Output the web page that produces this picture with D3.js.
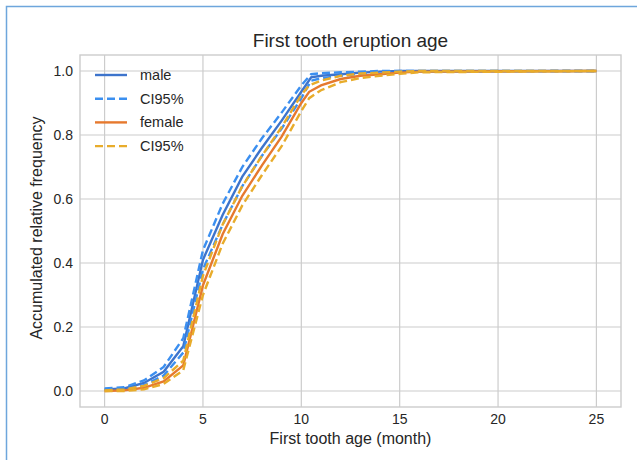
<!DOCTYPE html>
<html>
<head>
<meta charset="utf-8">
<script src="https://cdn.jsdelivr.net/npm/d3@7"></script>
<style>
  body { margin: 0; background: #fff; }
  text { font-family: "Liberation Sans", Arial, sans-serif; fill: #262626; }
</style>
</head>
<body>
<script>
// male cumulative curve + CI95
var maleAges = [0, 1, 2, 3, 4, 5, 6, 7, 8, 9, 10, 10.5, 11, 12, 13, 14, 15, 25];
var male     = [0.005, 0.008, 0.025, 0.06, 0.14, 0.41, 0.55, 0.67, 0.76, 0.845, 0.935, 0.98, 0.985, 0.99, 0.995, 0.998, 1.0, 1.0];
var maleLo   = [0.002, 0.004, 0.018, 0.048, 0.12, 0.38, 0.52, 0.64, 0.735, 0.82, 0.915, 0.97, 0.977, 0.985, 0.991, 0.996, 0.999, 1.0];
var maleHi   = [0.008, 0.012, 0.033, 0.075, 0.165, 0.44, 0.585, 0.70, 0.79, 0.87, 0.955, 0.99, 0.993, 0.996, 0.998, 1.0, 1.0, 1.0];

// female cumulative curve + CI95
var femaleAges = [0, 1, 2, 3, 4, 5, 6, 7, 8, 9, 10, 10.4, 11, 12, 13, 14, 15, 16, 25];
var female     = [0.0, 0.002, 0.01, 0.03, 0.08, 0.33, 0.49, 0.61, 0.705, 0.795, 0.9, 0.935, 0.955, 0.975, 0.985, 0.99, 0.995, 0.998, 1.0];
var femaleLo   = [0.0, 0.0, 0.005, 0.022, 0.065, 0.30, 0.46, 0.58, 0.675, 0.765, 0.875, 0.915, 0.94, 0.965, 0.978, 0.985, 0.991, 0.996, 1.0];
var femaleHi   = [0.002, 0.005, 0.016, 0.04, 0.095, 0.36, 0.52, 0.64, 0.735, 0.825, 0.925, 0.955, 0.97, 0.985, 0.992, 0.995, 0.998, 1.0, 1.0];

var xTicks = [0, 5, 10, 15, 20, 25];
var yTicks = [0.0, 0.2, 0.4, 0.6, 0.8, 1.0];
var legendLabels = ["male", "CI95%", "female", "CI95%"];

var width = 637;
var height = 460;
var pLeft = 80, pRight = 621, pTop = 55, pBottom = 407;

var svg = d3.select("body")
	.append("svg")
	.attr("width", width)
	.attr("height", height);

svg.append("rect").attr("width", width).attr("height", height).attr("fill", "#fff");

// outer blue frame (top + left only)
svg.append("path")
	.attr("d", "M6.5," + height + "V6.5H" + width)
	.attr("fill", "none")
	.attr("stroke", "#6ea6dc")
	.attr("stroke-width", 1.5);

var x = d3.scaleLinear().domain([-1.25, 26.25]).range([pLeft, pRight]);
var y = d3.scaleLinear().domain([-0.05, 1.05]).range([pBottom, pTop]);

// grid
svg.append("g")
	.selectAll("line")
	.data(xTicks)
	.enter()
	.append("line")
	.attr("x1", function (d) { return x(d); })
	.attr("x2", function (d) { return x(d); })
	.attr("y1", pTop).attr("y2", pBottom)
	.attr("stroke", "#cccccc").attr("stroke-width", 1.2);

svg.append("g")
	.selectAll("line")
	.data(yTicks)
	.enter()
	.append("line")
	.attr("x1", pLeft).attr("x2", pRight)
	.attr("y1", function (d) { return y(d); })
	.attr("y2", function (d) { return y(d); })
	.attr("stroke", "#cccccc").attr("stroke-width", 1.2);

svg.append("rect")
	.attr("x", pLeft).attr("y", pTop)
	.attr("width", pRight - pLeft).attr("height", pBottom - pTop)
	.attr("fill", "none").attr("stroke", "#cccccc").attr("stroke-width", 1.4);

// tick labels
svg.append("g")
	.selectAll("text")
	.data(xTicks)
	.enter()
	.append("text")
	.attr("x", function (d) { return x(d); })
	.attr("y", 424)
	.attr("text-anchor", "middle")
	.style("font-size", "14px")
	.text(function (d) { return d; });

svg.append("g")
	.selectAll("text")
	.data(yTicks)
	.enter()
	.append("text")
	.attr("x", 73)
	.attr("y", function (d) { return y(d) + 5; })
	.attr("text-anchor", "end")
	.style("font-size", "14px")
	.text(function (d) { return d.toFixed(1); });

// titles
svg.append("text")
	.attr("x", (pLeft + pRight) / 2).attr("y", 47)
	.attr("text-anchor", "middle")
	.style("font-size", "19px")
	.text("First tooth eruption age");

svg.append("text")
	.attr("x", (pLeft + pRight) / 2).attr("y", 444)
	.attr("text-anchor", "middle")
	.style("font-size", "16px")
	.text("First tooth age (month)");

svg.append("text")
	.attr("transform", "translate(42," + ((pTop + pBottom) / 2 - 3) + ") rotate(-90)")
	.attr("text-anchor", "middle")
	.style("font-size", "16px")
	.text("Accumulated relative frequency");

// lines
var series = [
	{ ages: maleAges, vals: male, color: "#3d74cc", dash: null },
	{ ages: maleAges, vals: maleLo, color: "#3b8ff0", dash: "8,4" },
	{ ages: maleAges, vals: maleHi, color: "#3b8ff0", dash: "8,4" },
	{ ages: femaleAges, vals: female, color: "#e6792e", dash: null },
	{ ages: femaleAges, vals: femaleLo, color: "#e8ac2b", dash: "8,4" },
	{ ages: femaleAges, vals: femaleHi, color: "#e8ac2b", dash: "8,4" }
];

var line = d3.line()
	.x(function (d) { return x(d[0]); })
	.y(function (d) { return y(d[1]); });

series.forEach(function (s) {
	svg.append("path")
		.datum(d3.zip(s.ages, s.vals))
		.attr("d", line)
		.attr("fill", "none")
		.attr("stroke", s.color)
		.attr("stroke-width", 2.4)
		.attr("stroke-dasharray", s.dash);
});

// legend
var legendStyle = [series[0], series[1], series[3], series[4]];
var lg = svg.append("g");
legendLabels.forEach(function (lab, i) {
	var ly = 75 + i * 23.7;
	lg.append("line")
		.attr("x1", 95).attr("x2", 127)
		.attr("y1", ly).attr("y2", ly)
		.attr("stroke", legendStyle[i].color)
		.attr("stroke-width", 2.4)
		.attr("stroke-dasharray", legendStyle[i].dash);
	lg.append("text")
		.attr("x", 140).attr("y", ly + 5)
		.style("font-size", "14.5px")
		.text(lab);
});
</script>
</body>
</html>
